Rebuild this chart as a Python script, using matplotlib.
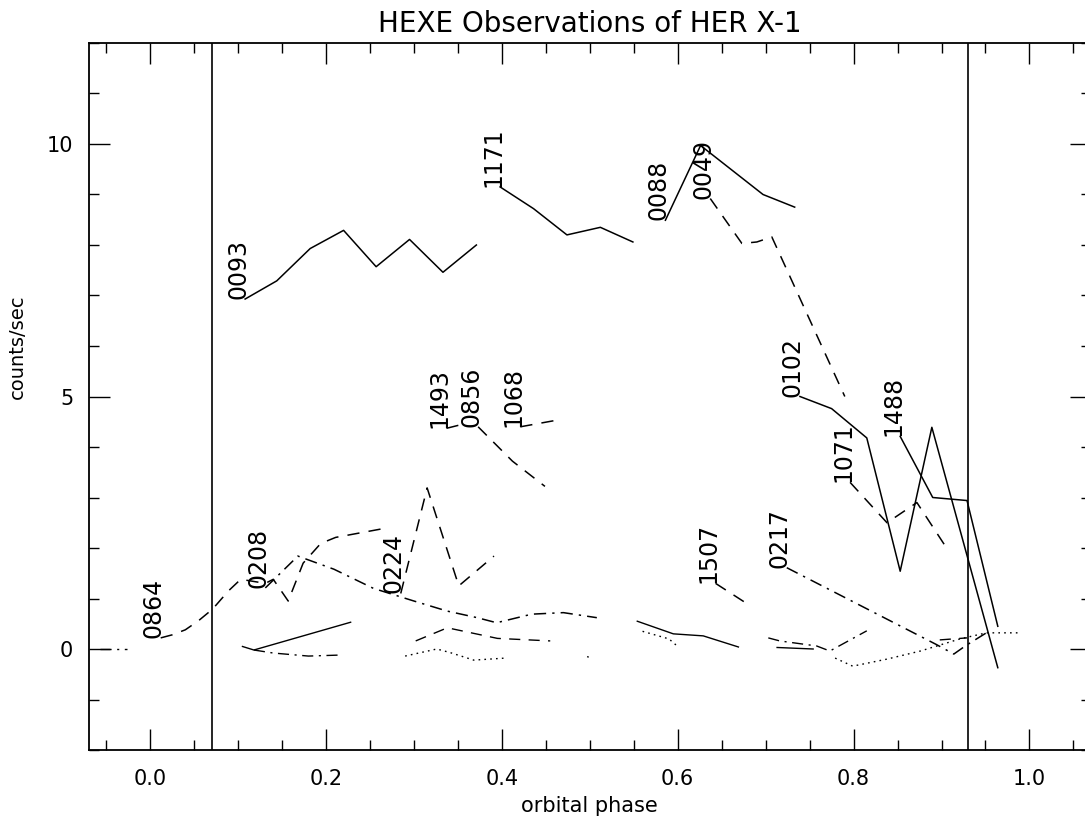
import matplotlib
matplotlib.use("Agg")
import matplotlib.pyplot as plt
from matplotlib.ticker import MultipleLocator, FixedLocator, FormatStrFormatter

plt.rcParams['font.family'] = ['DejaVu Sans']

# orbital phase limits and eclipse boundaries
x_range = [-0.07, 1.07]
y_range = [-2, 12]
eclipse_phase = [0.07, 0.93]

# labelled observations (x = phase, y = counts/sec)
x0093 = [0.108, 0.144, 0.182, 0.220, 0.257, 0.295, 0.333, 0.371]
y0093 = [6.93, 7.29, 7.93, 8.29, 7.57, 8.11, 7.46, 8.00]
x1171 = [0.398, 0.436, 0.474, 0.512, 0.549]
y1171 = [9.15, 8.72, 8.20, 8.35, 8.06]
x0088 = [0.586, 0.626, 0.697, 0.733]
y0088 = [8.49, 9.97, 9.00, 8.75]
x0049 = [0.637, 0.673, 0.690, 0.707, 0.790]
y0049 = [8.92, 8.03, 8.06, 8.16, 5.00]
x0102 = [0.739, 0.775, 0.815, 0.853, 0.889, 0.964]
y0102 = [5.00, 4.76, 4.18, 1.54, 4.39, -0.37]
x1488 = [0.853, 0.890, 0.929, 0.964]
y1488 = [4.21, 3.00, 2.94, 0.45]
x1071 = [0.796, 0.838, 0.872, 0.908]
y1071 = [3.30, 2.50, 2.90, 1.94]
x1493 = [0.337, 0.353]
y1493 = [4.37, 4.44]
x0856 = [0.373, 0.412, 0.449]
y0856 = [4.40, 3.72, 3.22]
x1068 = [0.421, 0.459]
y1068 = [4.40, 4.52]
x0864 = [0.012, 0.025, 0.040, 0.055, 0.071, 0.089, 0.103, 0.131, 0.140, 0.157, 0.174, 0.194, 0.211, 0.267]
y0864 = [0.22, 0.28, 0.38, 0.56, 0.79, 1.15, 1.38, 1.30, 1.38, 0.95, 1.70, 2.09, 2.21, 2.39]
x0208 = [0.131, 0.168, 0.209, 0.254, 0.300, 0.338, 0.372, 0.394, 0.434, 0.470, 0.508]
y0208 = [1.21, 1.84, 1.58, 1.20, 0.95, 0.75, 0.62, 0.52, 0.69, 0.72, 0.62]
x0224 = [0.285, 0.315, 0.351, 0.391]
y0224 = [1.10, 3.19, 1.25, 1.84]
x1507 = [0.643, 0.683]
y1507 = [1.30, 0.85]
x0217 = [0.724, 0.894, 0.914, 0.927, 0.951]
y0217 = [1.61, 0.09, -0.10, 0.06, 0.32]

# unlabelled low-rate observations
xa = [0.105, 0.118, 0.228]
ya = [0.05, -0.02, 0.53]
xb = [0.554, 0.595, 0.629, 0.669]
yb = [0.55, 0.30, 0.26, 0.04]
xc = [0.713, 0.754]
yc = [0.03, 0.00]
xd = [0.302, 0.338, 0.395, 0.455]
yd = [0.16, 0.42, 0.21, 0.16]
xe = [0.898, 0.929]
ye = [0.18, 0.22]
xf = [0.118, 0.140, 0.180, 0.216]
yf = [-0.02, -0.08, -0.14, -0.12]
xg = [0.703, 0.716, 0.758, 0.773, 0.815]
yg = [0.22, 0.16, 0.06, -0.04, 0.36]
xh = [-0.057, -0.026]
yh = [0.00, 0.00]
xi = [0.290, 0.326, 0.341, 0.368, 0.404]
yi = [-0.14, 0.00, -0.07, -0.22, -0.18]
xj = [0.560, 0.590, 0.600]
yj = [0.35, 0.20, 0.05]
xk = [0.779, 0.799, 0.838, 0.876, 0.921, 0.951, 0.989]
yk = [-0.18, -0.34, -0.20, -0.04, 0.20, 0.32, 0.32]
xl = [0.497, 0.500]
yl = [-0.15, -0.17]

solid = '-'
dashed = (0, (8, 6))
dashdot = (0, (8, 4, 1.5, 4))
dotted = (0, (1.2, 3))

labelled = [
    ('0093', x0093, y0093, solid),
    ('1171', x1171, y1171, solid),
    ('0088', x0088, y0088, solid),
    ('0049', x0049, y0049, dashed),
    ('0102', x0102, y0102, solid),
    ('1488', x1488, y1488, solid),
    ('1071', x1071, y1071, dashed),
    ('1493', x1493, y1493, dashed),
    ('0856', x0856, y0856, dashed),
    ('1068', x1068, y1068, dashed),
    ('0864', x0864, y0864, dashed),
    ('0208', x0208, y0208, dashdot),
    ('0224', x0224, y0224, dashed),
    ('1507', x1507, y1507, dashed),
    ('0217', x0217, y0217, dashdot),
]
unlabelled = [
    (xa, ya, solid), (xb, yb, solid), (xc, yc, solid),
    (xd, yd, dashed), (xe, ye, dashed),
    (xf, yf, dashdot), (xg, yg, dashdot), (xh, yh, dashdot),
    (xi, yi, dotted), (xj, yj, dotted), (xk, yk, dotted), (xl, yl, dotted),
]

fig = plt.figure(figsize=(10.85, 8.22), dpi=100)
ax = fig.add_axes([88.6 / 1085, 72 / 822, (1091 - 88.6) / 1085, 707 / 822])

for name, xs, ys, ls in labelled:
    ax.plot(xs, ys, color='black', lw=1.1, linestyle=ls)
    ax.text(xs[0], ys[0], name, rotation=90, rotation_mode='anchor',
            ha='left', va='baseline', fontsize=17, color='black')

for xs, ys, ls in unlabelled:
    ax.plot(xs, ys, color='black', lw=1.0, linestyle=ls)

for xp in eclipse_phase:
    ax.axvline(xp, color='black', lw=1.2)

ax.set_xlim(x_range)
ax.set_ylim(y_range)
ax.xaxis.set_major_locator(MultipleLocator(0.2))
ax.xaxis.set_minor_locator(MultipleLocator(0.05))
ax.yaxis.set_major_locator(FixedLocator([0, 5, 10]))
ax.yaxis.set_minor_locator(MultipleLocator(1))
ax.xaxis.set_major_formatter(FormatStrFormatter('%.1f'))
ax.yaxis.set_major_formatter(FormatStrFormatter('%d'))

ax.tick_params(which='both', direction='in', top=True, right=True, width=1.0)
ax.tick_params(which='major', length=15, labelsize=15)
ax.tick_params(which='minor', length=7.5)
ax.tick_params(axis='x', which='major', pad=14)
ax.tick_params(axis='y', which='major', pad=11)
for sp in ax.spines.values():
    sp.set_linewidth(1.3)

ax.set_xlabel('orbital phase', fontsize=15, labelpad=5)
ax.set_ylabel('counts/sec', fontsize=14, labelpad=14)
ax.yaxis.set_label_coords(-0.062, 0.57)
ax.set_title('HEXE Observations of HER X-1', fontsize=20, pad=8)

fig.savefig('out.png', dpi=100)
